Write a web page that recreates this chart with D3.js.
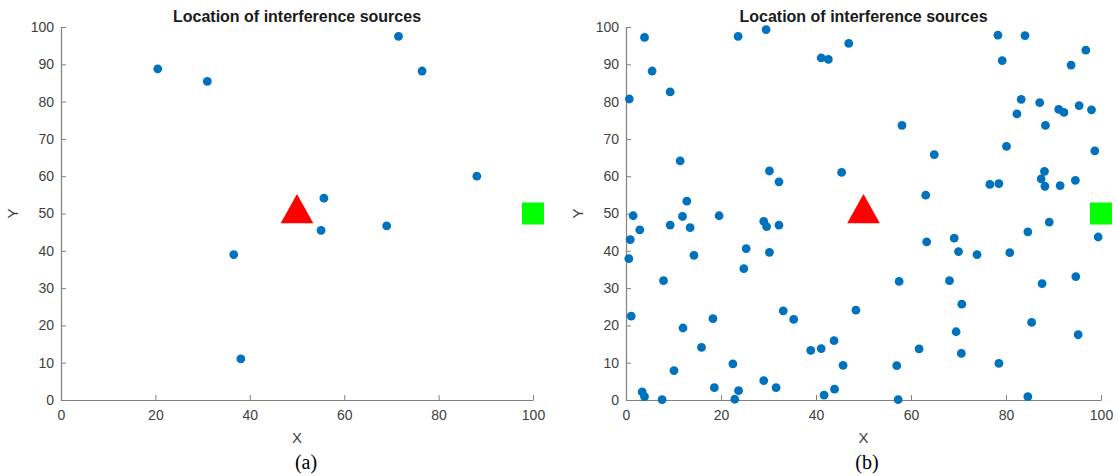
<!DOCTYPE html>
<html>
<head>
<meta charset="utf-8">
<script src="https://cdn.jsdelivr.net/npm/d3@7"></script>
<style>
  html, body { margin: 0; padding: 0; background: #fff; }
  svg { display: block; }
  .tick text { font-family: "Liberation Sans", Arial, sans-serif; font-size: 14px; fill: #404040; }
</style>
</head>
<body>
<svg id="chart" width="1118" height="476"></svg>
<script>
// ---------- data ----------
const titleText = "Location of interference sources";
const xTicks = [0, 20, 40, 60, 80, 100];
const yTicks = [0, 10, 20, 30, 40, 50, 60, 70, 80, 90, 100];
const targetPoint = [50, 50];     // red triangle
const receiverPoint = [100, 50];  // green square

// panel (a)
const aX = [20.5, 31.0, 71.5, 76.5, 88.1, 55.7, 55.1, 69.0, 36.6, 38.1];
const aY = [88.8, 85.4, 97.5, 88.2, 60.0, 54.1, 45.5, 46.7, 39.0, 11.0];

// panel (b)
const bX = [0.7, 3.9, 5.5, 9.3, 11.4, 12.8, 23.6, 29.5, 30.2, 32.2, 41.1, 42.6, 45.4, 46.9,
  78.3, 84.0, 96.8, 79.2, 93.7, 83.2, 87.1, 82.3, 91.1, 92.2, 95.4, 98.0, 88.3, 58.1, 80.1,
  98.7, 64.9, 88.1, 87.4, 88.2, 76.6, 78.5, 91.4, 94.6, 63.1, 1.5, 0.9, 0.6, 2.9, 9.3, 11.9,
  13.5, 14.3, 19.6, 25.3, 24.8, 29.0, 29.6, 32.2, 30.2, 7.9, 1.1, 33.1, 35.3, 18.3, 12.0,
  15.9, 38.9, 41.1, 43.8, 45.7, 22.5, 10.1, 18.6, 23.7, 22.9, 29.0, 31.6, 41.7, 43.9, 3.4,
  3.9, 7.6, 89.1, 84.6, 99.4, 63.3, 69.1, 70.0, 73.9, 80.8, 57.5, 68.1, 87.6, 94.7, 70.7,
  48.4, 85.4, 95.2, 69.5, 61.7, 70.6, 78.5, 57.0, 57.3, 84.6];
const bY = [80.7, 97.2, 88.2, 82.6, 64.1, 53.3, 97.5, 99.3, 61.4, 58.5, 91.7, 91.3, 61.0, 95.6,
  97.8, 97.7, 93.8, 91.0, 89.8, 80.6, 79.7, 76.7, 77.9, 77.1, 78.9, 77.8, 73.6, 73.6, 68.0,
  66.8, 65.8, 61.3, 59.3, 57.3, 57.8, 58.0, 57.5, 58.9, 54.9, 49.4, 43.0, 37.9, 45.6, 46.9, 49.2,
  46.2, 38.8, 49.4, 40.6, 35.2, 47.9, 46.5, 46.9, 39.6, 32.0, 22.5, 23.9, 21.6, 21.8, 19.3,
  14.1, 13.3, 13.8, 15.9, 9.3, 9.7, 7.9, 3.3, 2.5, 0.2, 5.2, 3.3, 1.3, 2.9, 2.2,
  0.9, 0.1, 47.7, 45.1, 43.7, 42.4, 43.4, 39.8, 39.0, 39.5, 31.8, 32.0, 31.2, 33.1, 25.7,
  24.1, 20.8, 17.5, 18.3, 13.7, 12.5, 9.8, 9.2, 0.1, 0.9];

const captions = ["(a)", "(b)"];

// ---------- drawing ----------
const svg = d3.select("#chart");
const panels = [
  { xs: aX, ys: aY, x0: 61, x1: 533, cap: captions[0], capX: 306 },
  { xs: bX, ys: bY, x0: 626, x1: 1101, cap: captions[1], capX: 867 }
];
const yTop = 27, yBot = 400;
const dotColor = "#0072BD";
const axisColor = "#808080";

panels.forEach(p => {
  const x = d3.scaleLinear().domain([0, 100]).range([p.x0, p.x1]);
  const y = d3.scaleLinear().domain([0, 100]).range([yBot, yTop]);
  const g = svg.append("g");

  const xAxis = g.append("g")
    .attr("transform", `translate(0,${yBot})`)
    .call(d3.axisBottom(x).tickValues(xTicks).tickSizeInner(-5).tickSizeOuter(0).tickPadding(10));
  const yAxis = g.append("g")
    .attr("transform", `translate(${p.x0},0)`)
    .call(d3.axisLeft(y).tickValues(yTicks).tickSizeInner(-5).tickSizeOuter(0).tickPadding(7));
  [xAxis, yAxis].forEach(a => {
    a.select(".domain").attr("stroke", axisColor).attr("stroke-width", 1.2);
    a.selectAll(".tick line").attr("stroke", axisColor);
  });

  // title
  g.append("text")
    .attr("x", (p.x0 + p.x1) / 2).attr("y", 22)
    .attr("text-anchor", "middle")
    .style("font-family", "'Liberation Sans', Arial, sans-serif")
    .style("font-weight", "bold").style("font-size", "16px").style("fill", "#1a1a1a")
    .text(titleText);

  // axis labels
  g.append("text")
    .attr("x", (p.x0 + p.x1) / 2).attr("y", 443)
    .attr("text-anchor", "middle")
    .style("font-family", "'Liberation Sans', Arial, sans-serif")
    .style("font-size", "15px").style("fill", "#404040")
    .text("X");
  g.append("text")
    .attr("transform", `translate(${p.x0 - 43},${(yTop + yBot) / 2}) rotate(-90)`)
    .attr("text-anchor", "middle")
    .style("font-family", "'Liberation Sans', Arial, sans-serif")
    .style("font-size", "15px").style("fill", "#404040")
    .text("Y");

  // caption
  g.append("text")
    .attr("x", p.capX).attr("y", 469)
    .attr("text-anchor", "middle")
    .style("font-family", "'Liberation Serif', 'Times New Roman', serif")
    .style("font-size", "20px").style("fill", "#000")
    .text(p.cap);

  // interference sources
  g.append("g").selectAll("circle")
    .data(d3.range(p.xs.length))
    .join("circle")
    .attr("cx", i => x(p.xs[i]))
    .attr("cy", i => y(p.ys[i]))
    .attr("r", 4.4)
    .attr("fill", dotColor);

  // target triangle
  const tx = x(targetPoint[0]), ty = y(targetPoint[1]);
  const tri = d3.path();
  tri.moveTo(tx, ty - 19.5);
  tri.lineTo(tx + 16.3, ty + 9.8);
  tri.lineTo(tx - 16.3, ty + 9.8);
  tri.closePath();
  g.append("path").attr("d", tri.toString()).attr("fill", "#ff0000");

  // receiver square
  const sx = x(receiverPoint[0]), sy = y(receiverPoint[1]);
  const half = 11;
  g.append("rect")
    .attr("x", sx - half).attr("y", sy - half)
    .attr("width", 2 * half).attr("height", 2 * half)
    .attr("fill", "#00ff00");
});
</script>
</body>
</html>
